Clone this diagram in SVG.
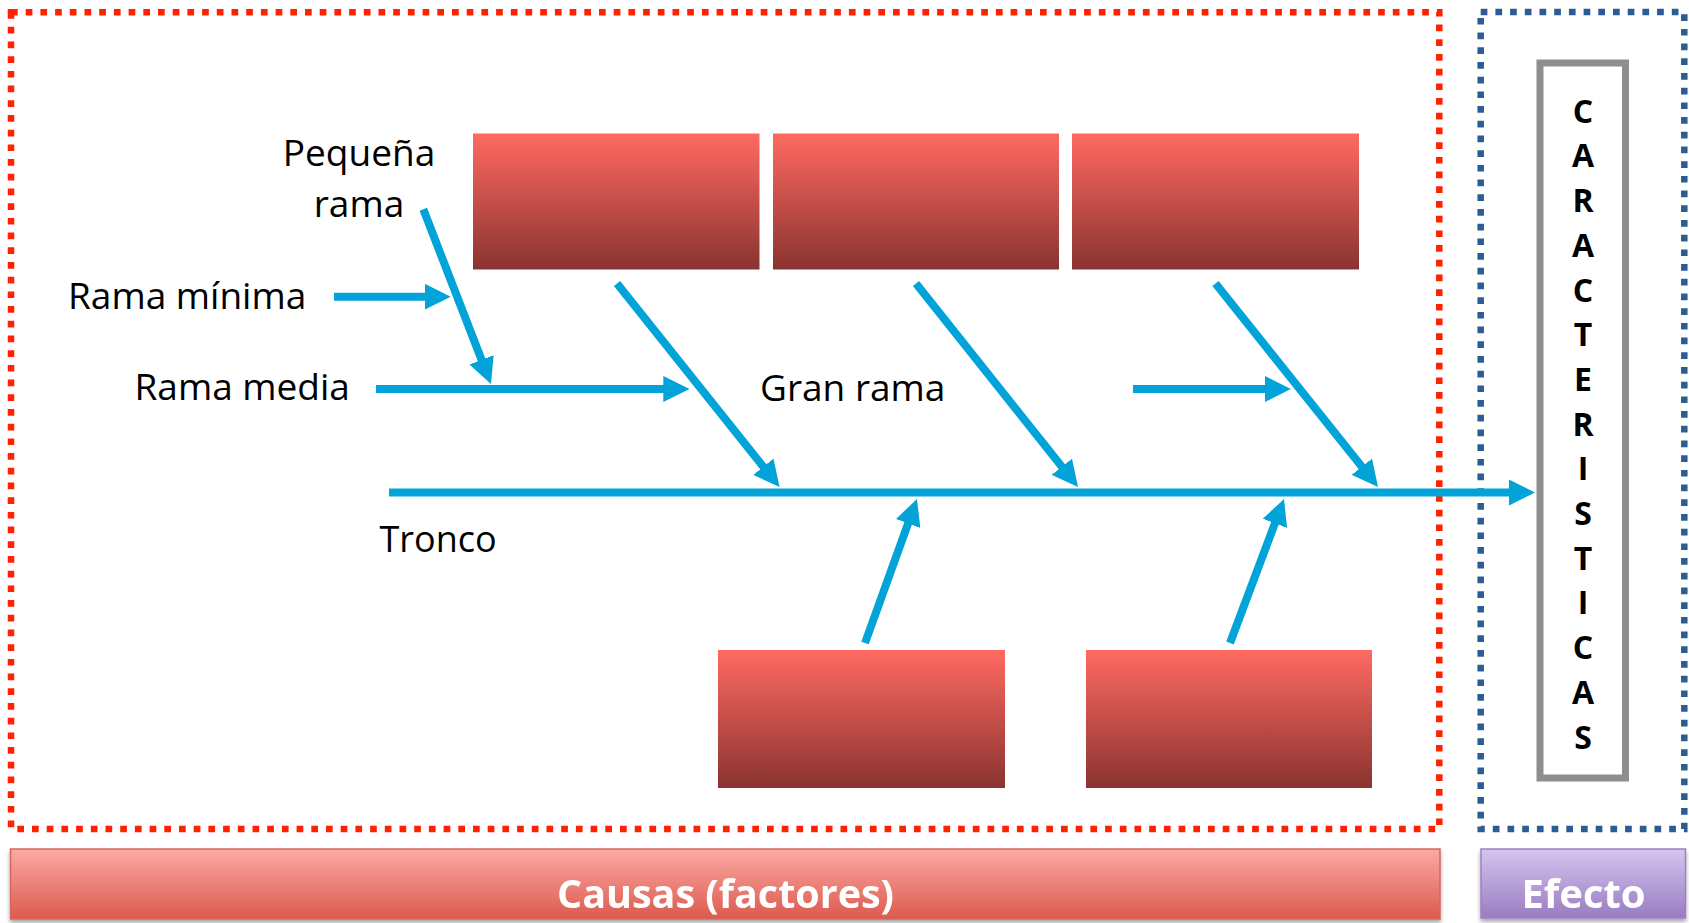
<svg xmlns="http://www.w3.org/2000/svg" width="1689" height="923" viewBox="0 0 1689 923">
<style>
.lbl{font-family:"Open Sans","Liberation Sans",sans-serif;font-size:37px;fill:#000}
.vert{font-family:"Open Sans","Liberation Sans",sans-serif;font-size:32px;font-weight:bold;fill:#000;text-anchor:middle}
.bar{font-family:"Open Sans","Liberation Sans",sans-serif;font-size:40px;font-weight:bold;fill:#fff;text-anchor:middle}
.cause{fill:url(#gCause)}
.arr{stroke:#02a3d9;stroke-width:8;fill:none;marker-end:url(#ah)}
</style>
<defs>
<linearGradient id="gCause" x1="0" y1="0" x2="0" y2="1">
<stop offset="0" stop-color="#ff6a62"/>
<stop offset="1" stop-color="#8a3330"/>
</linearGradient>
<linearGradient id="gBarR" x1="0" y1="0" x2="0" y2="1">
<stop offset="0" stop-color="#fcaaa4"/>
<stop offset="1" stop-color="#dc5a4e"/>
</linearGradient>
<linearGradient id="gBarP" x1="0" y1="0" x2="0" y2="1">
<stop offset="0" stop-color="#d6c5ef"/>
<stop offset="1" stop-color="#987cc2"/>
</linearGradient>
<filter id="sh" x="-5%" y="-20%" width="110%" height="150%">
<feGaussianBlur in="SourceAlpha" stdDeviation="2"/>
<feOffset dx="0" dy="3"/>
<feComponentTransfer><feFuncA type="linear" slope="0.35"/></feComponentTransfer>
<feMerge><feMergeNode/><feMergeNode in="SourceGraphic"/></feMerge>
</filter>
<marker id="ah" markerUnits="userSpaceOnUse" markerWidth="26" markerHeight="26" refX="12" refY="13" orient="auto">
<path d="M0,0 L26,13 L0,26 z" fill="#02a3d9"/>
</marker>
</defs>
<rect width="1689" height="923" fill="#fff"/>

<g id="frame-causas">
<rect x="11" y="12.3" width="1428.3" height="816.7" fill="none" stroke="#ff2200" stroke-width="6.5" stroke-dasharray="6.7 8"/>
</g>
<g id="frame-efecto">
<rect x="1480.7" y="12" width="203.6" height="817" fill="none" stroke="#2b5c94" stroke-width="6.5" stroke-dasharray="6.7 8"/>
</g>

<g id="box-top-1"><rect class="cause" x="473" y="133.5" width="286.5" height="136"/></g>
<g id="box-top-2"><rect class="cause" x="773" y="133.5" width="286" height="136"/></g>
<g id="box-top-3"><rect class="cause" x="1072" y="133.5" width="287" height="136"/></g>
<g id="box-bottom-1"><rect class="cause" x="718" y="650" width="287" height="138"/></g>
<g id="box-bottom-2"><rect class="cause" x="1086" y="650" width="286" height="138"/></g>

<g id="effect">
<rect x="1540" y="63" width="85.5" height="715" fill="#fff" stroke="#8e8e8e" stroke-width="7"/>
<text class="vert" x="1583" y="122.7">C</text>
<text class="vert" x="1583" y="167.4">A</text>
<text class="vert" x="1583" y="212.1">R</text>
<text class="vert" x="1583" y="256.8">A</text>
<text class="vert" x="1583" y="301.5">C</text>
<text class="vert" x="1583" y="346.2">T</text>
<text class="vert" x="1583" y="390.9">E</text>
<text class="vert" x="1583" y="435.6">R</text>
<text class="vert" x="1583" y="480.3">I</text>
<text class="vert" x="1583" y="525">S</text>
<text class="vert" x="1583" y="569.7">T</text>
<text class="vert" x="1583" y="614.4">I</text>
<text class="vert" x="1583" y="659.1">C</text>
<text class="vert" x="1583" y="703.8">A</text>
<text class="vert" x="1583" y="748.5">S</text>
</g>

<g id="connectors">
<line class="arr" x1="389" y1="492.5" x2="1521" y2="492.5"/>
<line class="arr" x1="334" y1="296.7" x2="436.7" y2="296.7"/>
<line class="arr" x1="376" y1="389" x2="675.3" y2="389"/>
<line class="arr" x1="1133" y1="389" x2="1276.8" y2="389"/>
<line class="arr" x1="423.3" y1="209.3" x2="485.9" y2="371"/>
<line class="arr" x1="617" y1="283.5" x2="770.8" y2="476.1"/>
<line class="arr" x1="916" y1="283.5" x2="1069.3" y2="476.1"/>
<line class="arr" x1="1215.5" y1="283.5" x2="1369.3" y2="476.1"/>
<line class="arr" x1="865" y1="643" x2="912.2" y2="512.2"/>
<line class="arr" x1="1230" y1="643" x2="1279.1" y2="512.1"/>
</g>

<g id="labels">
<text class="lbl" x="359" y="166" text-anchor="middle">Pequeña</text>
<text class="lbl" x="359" y="216.7" text-anchor="middle">rama</text>
<text class="lbl" x="68" y="309.3">Rama mínima</text>
<text class="lbl" x="134.5" y="400">Rama media</text>
<text class="lbl" x="760" y="400.7">Gran rama</text>
<text class="lbl" x="379.5" y="552" style="font-size:36px">Tronco</text>
</g>

<g id="bar-causas" filter="url(#sh)">
<rect x="10.5" y="849" width="1429.5" height="70" fill="url(#gBarR)" stroke="#d4675e" stroke-width="1.5"/>
<text class="bar" x="725.5" y="908" textLength="337" lengthAdjust="spacingAndGlyphs">Causas (factores)</text>
</g>
<g id="bar-efecto" filter="url(#sh)">
<rect x="1481" y="849" width="204.5" height="69" fill="url(#gBarP)" stroke="#9a82c0" stroke-width="1.5"/>
<text class="bar" x="1583.5" y="908">Efecto</text>
</g>
</svg>
